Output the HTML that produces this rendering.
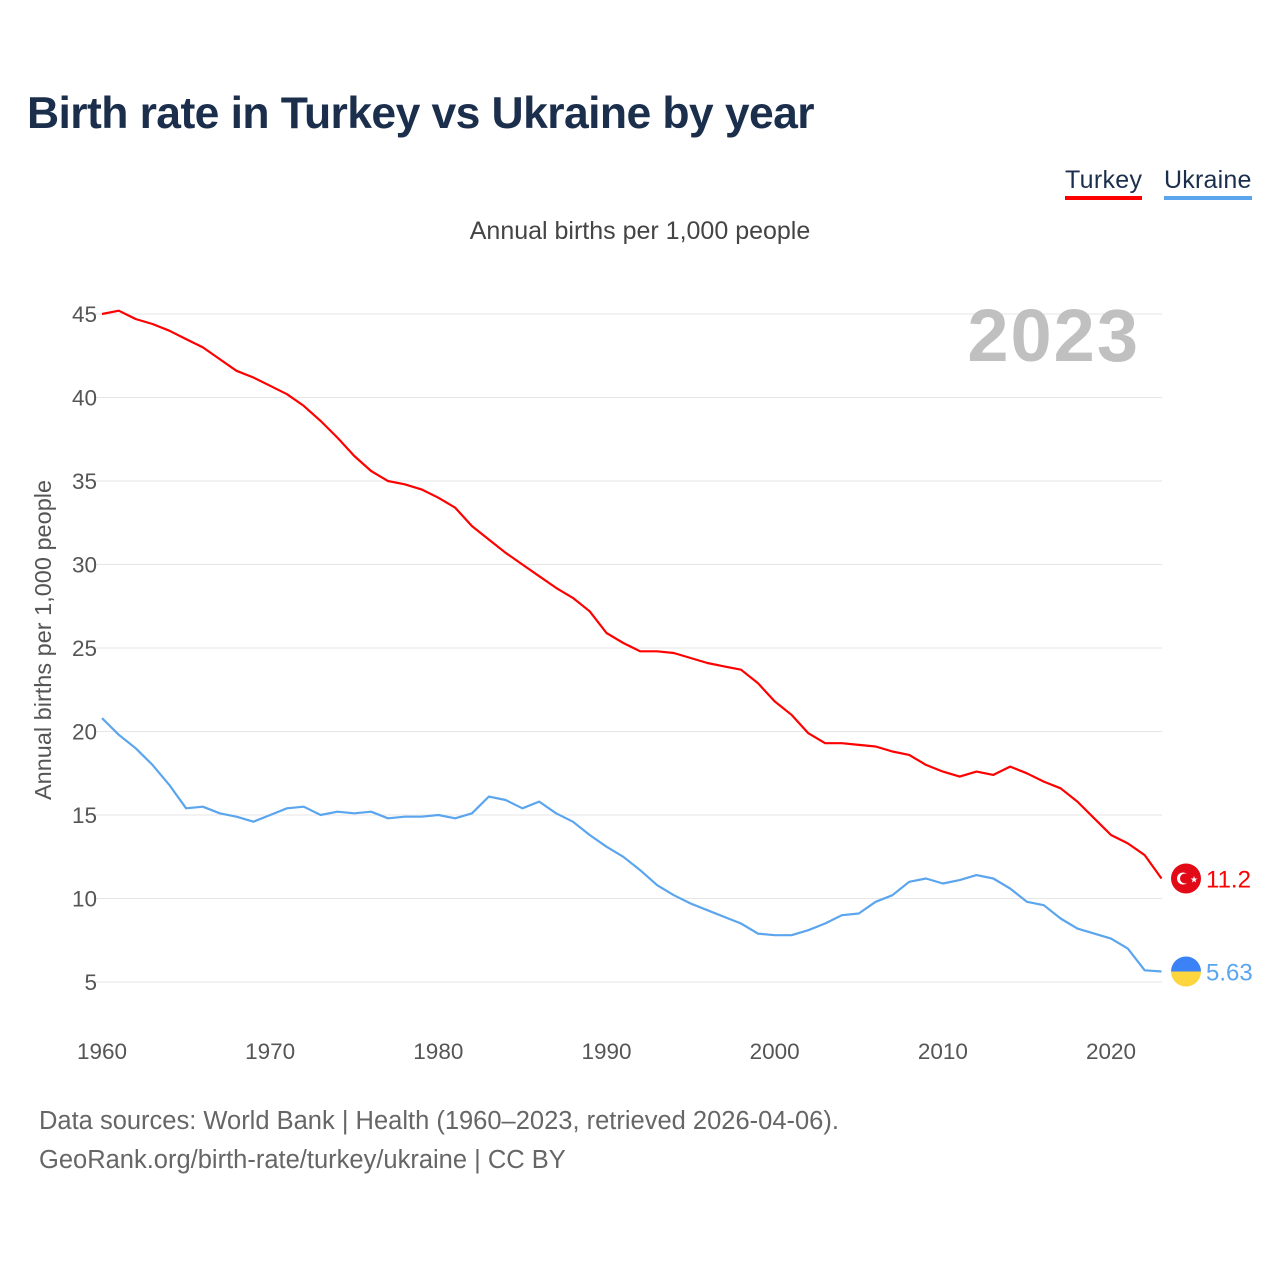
<!DOCTYPE html>
<html><head><meta charset="utf-8">
<style>
body{margin:0;background:#fff;width:1280px;height:1280px;overflow:hidden;font-family:"Liberation Sans",sans-serif;}
#title{position:absolute;left:27px;top:89px;font-size:44.5px;font-weight:bold;color:#1b2f4d;margin:0;letter-spacing:-0.6px}
.leg{position:absolute;top:166px;font-size:25px;color:#1b2f4d;padding-bottom:1px}
#sub{position:absolute;left:0;width:1280px;text-align:center;top:217px;font-size:25px;color:#444}
.src{position:absolute;left:39px;font-size:25.5px;color:#666}
svg{position:absolute;left:0;top:0}
</style></head><body>
<h1 id="title">Birth rate in Turkey vs Ukraine by year</h1>
<div class="leg" style="left:1065px;border-bottom:4px solid #f00;letter-spacing:0.3px">Turkey</div>
<div class="leg" style="left:1164px;border-bottom:4px solid #5aa5ee;letter-spacing:0.2px">Ukraine</div>
<div id="sub">Annual births per 1,000 people</div>
<div class="src" style="top:1107px">Data sources: World Bank | Health (1960–2023, retrieved 2026-04-06).</div>
<div class="src" style="top:1146px">GeoRank.org/birth-rate/turkey/ukraine | CC BY</div>
<svg id="chart" width="1280" height="1280"></svg>
<script>
const years=[];for(let y=1960;y<=2023;y++)years.push(y);
const turkey=[45.0,45.2,44.7,44.4,44.0,43.5,43.0,42.3,41.6,41.2,40.7,40.2,39.5,38.6,37.6,36.5,35.6,35.0,34.8,34.5,34.0,33.4,32.3,31.5,30.7,30.0,29.3,28.6,28.0,27.2,25.9,25.3,24.8,24.8,24.7,24.4,24.1,23.9,23.7,22.9,21.8,21.0,19.9,19.3,19.3,19.2,19.1,18.8,18.6,18.0,17.6,17.3,17.6,17.4,17.9,17.5,17.0,16.6,15.8,14.8,13.8,13.3,12.6,11.2];
const ukraine=[20.8,19.8,19.0,18.0,16.8,15.4,15.5,15.1,14.9,14.6,15.0,15.4,15.5,15.0,15.2,15.1,15.2,14.8,14.9,14.9,15.0,14.8,15.1,16.1,15.9,15.4,15.8,15.1,14.6,13.8,13.1,12.5,11.7,10.8,10.2,9.7,9.3,8.9,8.5,7.9,7.8,7.8,8.1,8.5,9.0,9.1,9.8,10.2,11.0,11.2,10.9,11.1,11.4,11.2,10.6,9.8,9.6,8.8,8.2,7.9,7.6,7.0,5.7,5.63];
const yTicks=[5,10,15,20,25,30,35,40,45];
const xTicks=[1960,1970,1980,1990,2000,2010,2020];
const X=y=>102+(y-1960)*16.817;
const Y=v=>1065.5-v*16.7;
const svg=document.getElementById('chart');const NS='http://www.w3.org/2000/svg';
function mk(t,a,txt){const e=document.createElementNS(NS,t);for(const k in a)e.setAttribute(k,a[k]);if(txt!=null)e.textContent=txt;svg.appendChild(e);return e;}
yTicks.forEach(v=>{
 const g=mk('line',{x1:95,x2:1162,y1:Y(v),y2:Y(v),stroke:'#e6e6e6','stroke-width':1});
 
 
 const t=mk('text',{x:97,y:Y(v)+8,'text-anchor':'end','font-size':22.5,fill:'#555','font-family':'Liberation Sans, sans-serif'},v);
 
 
});
xTicks.forEach(v=>{
 const t=mk('text',{x:X(v),y:1059,'text-anchor':'middle','font-size':22.5,fill:'#555','font-family':'Liberation Sans, sans-serif'},v);
 
 
});
const yt=mk('text',{x:0,y:0,transform:'translate(51,640) rotate(-90)','text-anchor':'middle','font-size':23.5,fill:'#555','font-family':'Liberation Sans, sans-serif'},'Annual births per 1,000 people');


const yr=mk('text',{x:1140,y:361,'text-anchor':'end','font-size':74,'font-weight':'bold',fill:'#c0c0c0','font-family':'Liberation Sans, sans-serif','letter-spacing':'2'},'2023');


function line(vals,color,name){
 const d=vals.map((v,i)=>(i?'L':'M')+X(years[i]).toFixed(1)+' '+Y(v).toFixed(1)).join(' ');
 const p=mk('path',{d:d,fill:'none',stroke:color,'stroke-width':2.2,'stroke-linejoin':'round'});
 
 
}
line(ukraine,'#5aa5ee','ukraine-line');
line(turkey,'#f00','turkey-line');
const lt=turkey[turkey.length-1],lu=ukraine[ukraine.length-1];
const c1=mk('circle',{cx:1186,cy:Y(lt),r:15,fill:'#e30a17'});


mk('circle',{cx:1183,cy:Y(lt),r:6,fill:'#fff'});
mk('circle',{cx:1185,cy:Y(lt),r:5,fill:'#e30a17'});
mk('text',{x:1190,y:Y(lt)+4,'font-size':9,fill:'#fff'},'★');
const tl=mk('text',{x:1206,y:Y(lt)+9,'font-size':24,fill:'#f00','font-family':'Liberation Sans, sans-serif'},lt);


const cy=Y(lu);
const u1=mk('path',{d:`M1171 ${cy} A15 15 0 0 1 1201 ${cy} Z`,fill:'#3b82f6'});


mk('path',{d:`M1171 ${cy} A15 15 0 0 0 1201 ${cy} Z`,fill:'#fcd53f'});
const ul=mk('text',{x:1206,y:cy+9,'font-size':24,fill:'#5aa5ee','font-family':'Liberation Sans, sans-serif'},lu);


</script>
</body></html>
